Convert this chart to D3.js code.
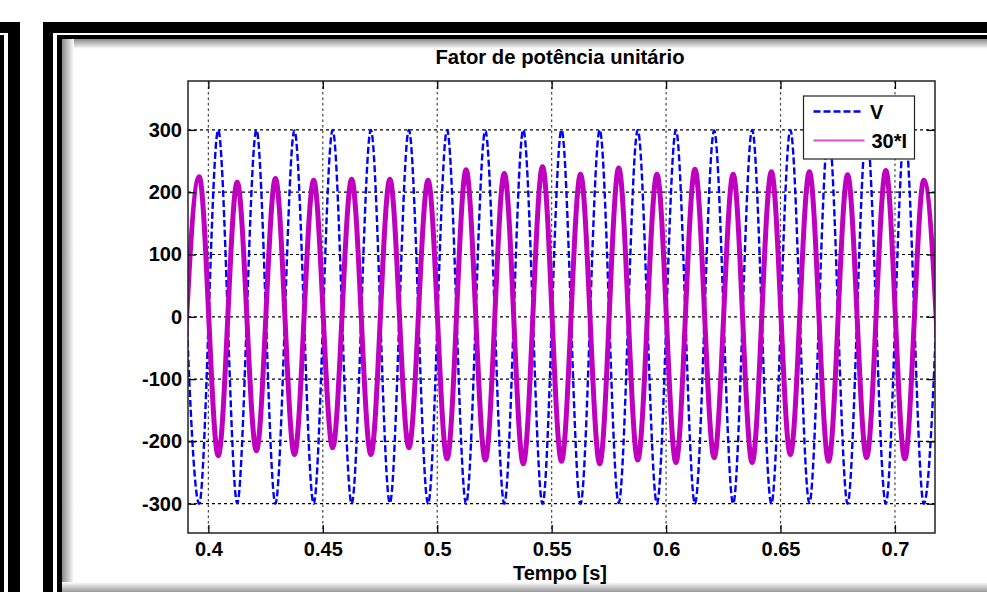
<!DOCTYPE html>
<html>
<head>
<meta charset="utf-8">
<script src="https://cdn.jsdelivr.net/npm/d3@7"></script>
<style>
  body { margin: 0; background: #fff; }
  text { font-family: 'Liberation Sans', Arial, sans-serif; font-weight: bold; fill: #000; }
</style>
</head>
<body>
<script>
// Extrema (time in s), alternating peak / trough
const extTimes = [0.3876, 0.3960, 0.4043, 0.4126, 0.4210, 0.4293, 0.4376, 0.4460, 0.4543, 0.4626,
  0.4710, 0.4793, 0.4876, 0.4960, 0.5043, 0.5126, 0.5210, 0.5293, 0.5376, 0.5460,
  0.5543, 0.5626, 0.5710, 0.5793, 0.5876, 0.5960, 0.6043, 0.6126, 0.6210, 0.6293,
  0.6376, 0.6460, 0.6543, 0.6626, 0.6710, 0.6793, 0.6876, 0.6960, 0.7043, 0.7126, 0.7210];

// Voltage V at those instants
const vValues = [300, -300, 300, -299, 300, -300, 299, -300, 300, -300,
  300, -299, 300, -300, 300, -300, 299, -300, 300, -300,
  300, -300, 300, -299, 300, -300, 300, -300, 299, -300,
  300, -300, 300, -299, 300, -300, 300, -300, 300, -300, 300];

// 30*I at those instants (current is opposite to V)
const iValues = [-221, 225, -223, 216, -215, 222, -221, 219, -210, 221,
  -221, 221, -210, 219, -228, 236, -230, 230, -236, 241,
  -232, 229, -236, 239, -230, 229, -234, 237, -226, 229,
  -234, 233, -221, 233, -232, 228, -226, 235, -228, 219, -226];

const xTicks = [0.4, 0.45, 0.5, 0.55, 0.6, 0.65, 0.7];
const yTicks = [-300, -200, -100, 0, 100, 200, 300];
const seriesNames = ['V', '30*I'];

const width = 987;
const height = 592;
const plotLeft = 188;
const plotRight = 935;
const plotTop = 81;
const plotBottom = 533;

const svg = d3
  .select('body')
  .append('svg')
  .attr('width', width)
  .attr('height', height);

const defs = svg.append('defs');

// shadow gradients for the picture frame
function shade(id, x1, y1, x2, y2, from, to) {
  const g = defs
    .append('linearGradient')
    .attr('id', id)
    .attr('x1', x1).attr('y1', y1)
    .attr('x2', x2).attr('y2', y2);
  g.append('stop').attr('offset', '0%').attr('stop-color', from);
  g.append('stop').attr('offset', '100%').attr('stop-color', to);
}
shade('shTop', 0, 0, 0, 1, '#8a8a8a', '#ffffff');
shade('shLeft', 0, 0, 1, 0, '#8a8a8a', '#ffffff');
shade('shBottom', 0, 0, 0, 1, '#ffffff', '#999999');

svg.append('rect').attr('width', width).attr('height', height).attr('fill', '#fff');

// Frame of the neighbouring panel (left edge)
svg.append('rect').attr('x', 0).attr('y', 22).attr('width', 20).attr('height', 11).attr('fill', '#000');
svg.append('rect').attr('x', 8).attr('y', 22).attr('width', 12).attr('height', 570).attr('fill', '#000');
svg.append('rect').attr('x', 0).attr('y', 35).attr('width', 4).attr('height', 557).attr('fill', '#000');

// Frame of this panel
svg.append('rect').attr('x', 62).attr('y', 39).attr('width', 925).attr('height', 10).attr('fill', 'url(#shTop)');
svg.append('rect').attr('x', 62).attr('y', 39).attr('width', 12).attr('height', 553).attr('fill', 'url(#shLeft)');
svg.append('rect').attr('x', 62).attr('y', 582).attr('width', 925).attr('height', 10).attr('fill', 'url(#shBottom)');
svg.append('rect').attr('x', 43).attr('y', 22).attr('width', 944).attr('height', 11).attr('fill', '#000');
svg.append('rect').attr('x', 43).attr('y', 22).attr('width', 10).attr('height', 570).attr('fill', '#000');
svg.append('rect').attr('x', 57).attr('y', 35).attr('width', 930).attr('height', 4).attr('fill', '#000');
svg.append('rect').attr('x', 57).attr('y', 35).attr('width', 5).attr('height', 557).attr('fill', '#000');

// Scales
const x = d3.scaleLinear().domain([0.3911, 0.7175]).range([plotLeft, plotRight]);
const y = d3.scaleLinear().domain([-347, 378.5]).range([plotBottom, plotTop]);

// Plot background
svg
  .append('rect')
  .attr('x', plotLeft)
  .attr('y', plotTop)
  .attr('width', plotRight - plotLeft)
  .attr('height', plotBottom - plotTop)
  .attr('fill', '#fff');

// Grid
svg
  .append('g')
  .selectAll('line')
  .data(xTicks)
  .enter()
  .append('line')
  .attr('x1', (d) => x(d))
  .attr('x2', (d) => x(d))
  .attr('y1', plotTop)
  .attr('y2', plotBottom)
  .attr('stroke', '#444')
  .attr('stroke-width', 1.2)
  .attr('stroke-dasharray', '2.5,3');

svg
  .append('g')
  .selectAll('line')
  .data(yTicks)
  .enter()
  .append('line')
  .attr('x1', plotLeft)
  .attr('x2', plotRight)
  .attr('y1', (d) => y(d))
  .attr('y2', (d) => y(d))
  .attr('stroke', '#000')
  .attr('stroke-width', 1.2)
  .attr('stroke-dasharray', '3,3');

// Curves
svg
  .append('clipPath')
  .attr('id', 'plotClip')
  .append('rect')
  .attr('x', plotLeft)
  .attr('y', plotTop)
  .attr('width', plotRight - plotLeft)
  .attr('height', plotBottom - plotTop);

const plotArea = svg.append('g').attr('clip-path', 'url(#plotClip)');

const waveLine = d3
  .line()
  .x((d, i) => x(extTimes[i]))
  .y((d) => y(d))
  .curve(d3.curveMonotoneX);

plotArea
  .append('path')
  .datum(vValues)
  .attr('d', waveLine)
  .attr('fill', 'none')
  .attr('stroke', '#0000ff')
  .attr('stroke-width', 2.4)
  .attr('stroke-dasharray', '7,3');

plotArea
  .append('path')
  .datum(iValues)
  .attr('d', waveLine)
  .attr('fill', 'none')
  .attr('stroke', '#bf00bf')
  .attr('stroke-width', 5)
  .attr('stroke-linejoin', 'round');

// Axes (ticks pointing inward, box drawn separately)
const xAxis = d3.axisBottom(x).tickValues(xTicks).tickSizeInner(-8).tickSizeOuter(0).tickPadding(9).tickFormat((d) => String(d));
const yAxis = d3.axisLeft(y).tickValues(yTicks).tickSizeInner(-8).tickSizeOuter(0).tickPadding(6).tickFormat((d) => String(d));

const gx = svg.append('g').attr('transform', 'translate(0,' + plotBottom + ')').call(xAxis);
const gy = svg.append('g').attr('transform', 'translate(' + plotLeft + ',0)').call(yAxis);
svg.append('g').attr('transform', 'translate(0,' + plotTop + ')').call(d3.axisTop(x).tickValues(xTicks).tickSizeInner(-8).tickSizeOuter(0).tickFormat(''));
svg.append('g').attr('transform', 'translate(' + plotRight + ',0)').call(d3.axisRight(y).tickValues(yTicks).tickSizeInner(-8).tickSizeOuter(0).tickFormat(''));

svg.selectAll('.domain').remove();
svg.selectAll('.tick line').attr('stroke', '#000').attr('stroke-width', 1.3);
[gx, gy].forEach((g) => g.selectAll('text').style('font-size', '20px').style('font-family', "'Liberation Sans', Arial, sans-serif").style('font-weight', 'bold').attr('fill', '#000'));

svg
  .append('rect')
  .attr('x', plotLeft)
  .attr('y', plotTop)
  .attr('width', plotRight - plotLeft)
  .attr('height', plotBottom - plotTop)
  .attr('fill', 'none')
  .attr('stroke', '#222')
  .attr('stroke-width', 1.5);

// Title and axis label
svg
  .append('text')
  .attr('x', 560)
  .attr('y', 64)
  .attr('text-anchor', 'middle')
  .style('font-size', '20.3px')
  .text('Fator de potência unitário');

svg
  .append('text')
  .attr('x', 560)
  .attr('y', 580)
  .attr('text-anchor', 'middle')
  .style('font-size', '20px')
  .text('Tempo [s]');

// Legend
const legend = svg.append('g').attr('transform', 'translate(803.5,96)');

legend
  .append('rect')
  .attr('width', 111)
  .attr('height', 63)
  .attr('fill', '#fff')
  .attr('stroke', '#222')
  .attr('stroke-width', 1.2);

legend
  .append('line')
  .attr('x1', 10).attr('x2', 58)
  .attr('y1', 15.5).attr('y2', 15.5)
  .attr('stroke', '#0000ff')
  .attr('stroke-width', 2.4)
  .attr('stroke-dasharray', '7,3');

legend
  .append('line')
  .attr('x1', 10).attr('x2', 61)
  .attr('y1', 44.5).attr('y2', 44.5)
  .attr('stroke', '#cc55cc')
  .attr('stroke-width', 1.8);

legend
  .selectAll('.legText')
  .data(seriesNames)
  .enter()
  .append('text')
  .attr('class', 'legText')
  .attr('x', (d, i) => (i === 0 ? 66.5 : 68))
  .attr('y', (d, i) => 23 + i * 29)
  .style('font-size', '20px')
  .text((d) => d);
</script>
</body>
</html>
